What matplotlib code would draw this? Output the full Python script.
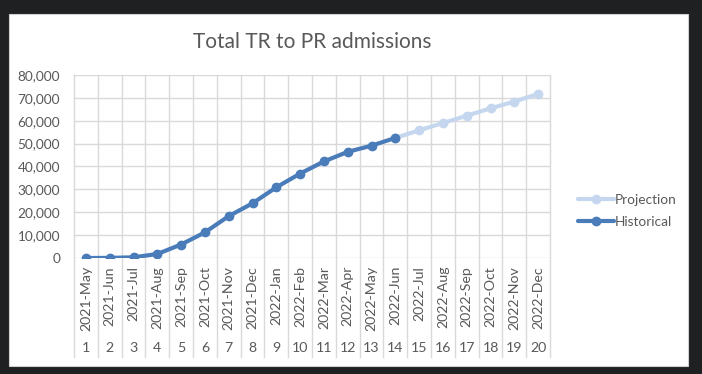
import matplotlib
matplotlib.use("Agg")
import matplotlib.pyplot as plt
from matplotlib.patches import Rectangle
from matplotlib.lines import Line2D
from matplotlib.ticker import FuncFormatter

plt.rcParams['font.family'] = ['Lato', 'DejaVu Sans']

months = ["2021-May", "2021-Jun", "2021-Jul", "2021-Aug", "2021-Sep", "2021-Oct",
          "2021-Nov", "2021-Dec", "2022-Jan", "2022-Feb", "2022-Mar", "2022-Apr",
          "2022-May", "2022-Jun", "2022-Jul", "2022-Aug", "2022-Sep", "2022-Oct",
          "2022-Nov", "2022-Dec"]
index_labels = [str(i) for i in range(1, 21)]
historical = [0, 50, 300, 1750, 5900, 11200, 18300, 23900, 30900, 36900,
              42200, 46400, 49100, 52500]
projection = [52500, 55800, 59000, 62200, 65400, 68400, 71700]
hist_x = list(range(1, len(historical) + 1))
proj_x = list(range(len(historical), len(historical) + len(projection)))
yticks = [0, 10000, 20000, 30000, 40000, 50000, 60000, 70000, 80000]

W, H = 702, 374
fig = plt.figure(figsize=(W / 100, H / 100), dpi=100)
fig.patch.set_facecolor("#1f2022")
bg = Rectangle((9 / W, (H - 366) / H), (688 - 9) / W, (366 - 14) / H,
               transform=fig.transFigure, facecolor="white",
               edgecolor="#d0d0d0", linewidth=0.8, zorder=-10)
fig.add_artist(bg)

left, right, top, bottom = 74, 550, 75, 258
ax = fig.add_axes([left / W, (H - bottom) / H, (right - left) / W, (bottom - top) / H])
ax.set_zorder(1)
ax.patch.set_alpha(0)
ax.set_xlim(0.5, 20.5)
ax.set_ylim(0, 80000)
ax.set_yticks(yticks)
ax.yaxis.set_major_formatter(FuncFormatter(lambda v, p: f"{int(v):,}"))
ax.tick_params(axis='y', length=0, pad=10, labelsize=9.8, labelcolor="#595959")
ax.set_xticks([])
for s in ax.spines.values():
    s.set_visible(False)
grid_c = "#d9d9d9"
for v in yticks:
    ax.axhline(v, color=grid_c, lw=1, zorder=1)

trans = ax.get_xaxis_transform()
ybot = (bottom - 357) / (bottom - top)
for b in range(21):
    ax.add_line(Line2D([b + 0.5, b + 0.5], [ybot, 1], transform=trans, color=grid_c,
                       lw=1, clip_on=False, zorder=1))

lab_y = (bottom - 266) / (bottom - top)
num_y = (bottom - 348) / (bottom - top)
for i, (m, n) in enumerate(zip(months, index_labels)):
    ax.text(i + 1, lab_y, m, transform=trans, rotation=90, ha="center", va="top",
            fontsize=10.2, color="#595959")
    ax.text(i + 1, num_y, n, transform=trans, ha="center", va="center",
            fontsize=10.2, color="#595959")

proj_c = "#c5d7ee"
hist_c = "#4a7cba"
ax.plot(proj_x, projection, color=proj_c, lw=3, marker="o", markersize=6,
        label="Projection", zorder=3, solid_capstyle="round")
ax.plot(hist_x, historical, color=hist_c, lw=3, marker="o", markersize=6,
        label="Historical", zorder=4, solid_capstyle="round")

fig.text(312 / W, (H - 42) / H, "Total TR to PR admissions", ha="center", va="center",
         fontsize=15, color="#595959")

leg = ax.legend(loc="center left", bbox_to_anchor=(566 / W, (H - 211) / H),
                bbox_transform=fig.transFigure, frameon=False, fontsize=9.8,
                handlelength=2.6, handletextpad=0.1, labelspacing=0.75)
for t in leg.get_texts():
    t.set_color("#595959")

fig.savefig("out.png", dpi=100, facecolor=fig.get_facecolor())
